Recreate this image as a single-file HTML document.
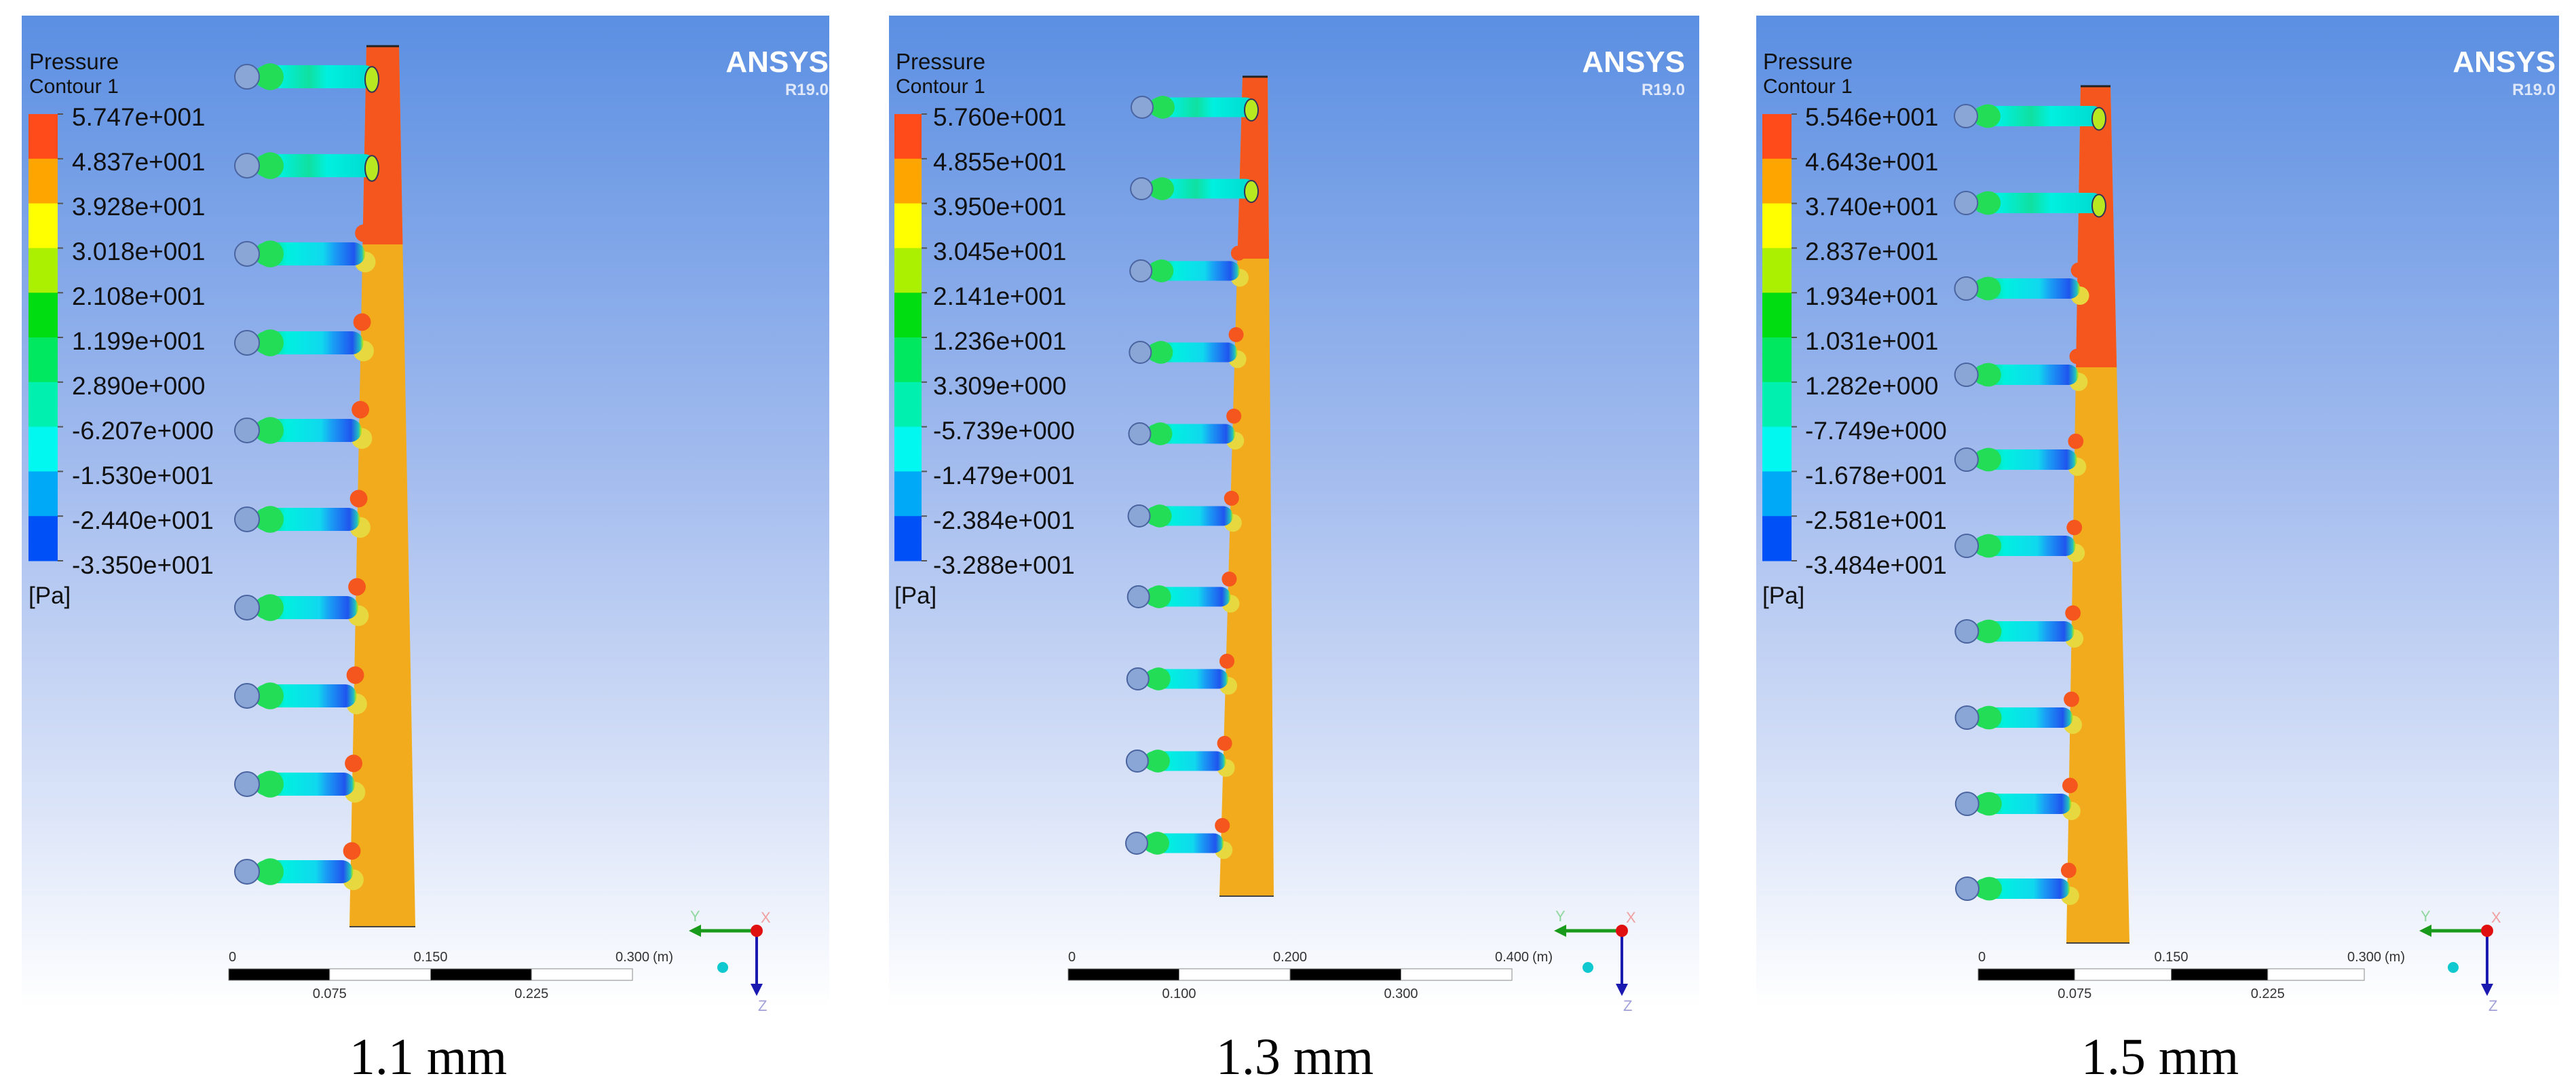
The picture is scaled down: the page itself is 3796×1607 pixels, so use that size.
<!DOCTYPE html>
<html>
<head>
<meta charset="utf-8">
<style>
html,body{margin:0;padding:0;background:#fff;}
body{width:3796px;height:1607px;overflow:hidden;}
svg{display:block;}
.lg{font-family:"Liberation Sans",sans-serif;fill:#111;}
.cap{font-family:"Liberation Serif",serif;fill:#000;}
</style>
</head>
<body>
<svg id="fig" width="3796" height="1607" viewBox="0 0 3796 1607" xmlns="http://www.w3.org/2000/svg">
<defs>
<linearGradient id="bg" x1="0" y1="0" x2="0" y2="1">
<stop offset="0" stop-color="#5b8fe2"/>
<stop offset="0.45" stop-color="#a2bbee"/>
<stop offset="0.8" stop-color="#dbe4f8"/>
<stop offset="1" stop-color="#ffffff"/>
</linearGradient>
<linearGradient id="pipe" x1="0" y1="0" x2="1" y2="0">
<stop offset="0" stop-color="#22dd55"/>
<stop offset="0.18" stop-color="#00e6a0"/>
<stop offset="0.3" stop-color="#00f0e0"/>
<stop offset="0.62" stop-color="#10d8ee"/>
<stop offset="0.72" stop-color="#1a9ff5"/>
<stop offset="0.9" stop-color="#1f55ee"/>
<stop offset="0.97" stop-color="#20c0c0"/>
<stop offset="1" stop-color="#c8e800"/>
</linearGradient>
<linearGradient id="pipeTop" x1="0" y1="0" x2="1" y2="0">
<stop offset="0" stop-color="#22dd55"/>
<stop offset="0.2" stop-color="#00f0e0"/>
<stop offset="0.45" stop-color="#10e0a0"/>
<stop offset="0.6" stop-color="#00f0e0"/>
<stop offset="1" stop-color="#00d8d0"/>
</linearGradient>
</defs>
</svg>
<script>
const legendLabels1 = ["5.747e+001","4.837e+001","3.928e+001","3.018e+001","2.108e+001","1.199e+001","2.890e+000","-6.207e+000","-1.530e+001","-2.440e+001","-3.350e+001"];
const legendLabels2 = ["5.760e+001","4.855e+001","3.950e+001","3.045e+001","2.141e+001","1.236e+001","3.309e+000","-5.739e+000","-1.479e+001","-2.384e+001","-3.288e+001"];
const legendLabels3 = ["5.546e+001","4.643e+001","3.740e+001","2.837e+001","1.934e+001","1.031e+001","1.282e+000","-7.749e+000","-1.678e+001","-2.581e+001","-3.484e+001"];
const bandColors = ["#ff4a1a","#ffa500","#ffff00","#aaf000","#00dd10","#00e860","#00f0b0","#00f8f0","#00a8f8","#0050f8"];
const captions = ["1.1 mm","1.3 mm","1.5 mm"];
const scaleTop1 = ["0","0.150","0.300"], scaleBot1 = ["0.075","0.225"];
const scaleTop2 = ["0","0.200","0.400"], scaleBot2 = ["0.100","0.300"];
const scaleTop3 = ["0","0.150","0.300"], scaleBot3 = ["0.075","0.225"];

const NS="http://www.w3.org/2000/svg";
const svg=document.getElementById('fig');
function mk(tag,attrs,parent){const e=document.createElementNS(NS,tag);for(const k in attrs)e.setAttribute(k,attrs[k]);(parent||svg).appendChild(e);return e;}

const panels=[
 {x0:32,x1:1222,lx:42,lw:43,tx:106,title:43,ans:1221,ys:[113,244,374,505,634,765,895,1025,1155,1284],cx0:364,cx1:364,r:18,ph:34,
  m:{tl:540,tr:588,ty:68,bl:515,br:612,by:1365},red:360,topEnd:554,sb:[337,932],labels:legendLabels1,st:scaleTop1,sbt:scaleBot1,tri:1115,cap:631},
 {x0:1310,x1:2504,lx:1318,lw:40,tx:1375,title:1320,ans:2483,ys:[158,278,399,519,639,760,879,1000,1121,1242],cx0:1683,cx1:1675,r:16,ph:29,
  m:{tl:1831,tr:1868,ty:113,bl:1797,br:1877,by:1320},red:381,topEnd:1850,sb:[1574,2228],labels:legendLabels2,st:scaleTop2,sbt:scaleBot2,tri:2390,cap:1908},
 {x0:2588,x1:3771,lx:2597,lw:43,tx:2660,title:2598,ans:3766,ys:[171,299,425,552,677,804,930,1057,1184,1309],cx0:2897,cx1:2899,r:17,ph:30,
  m:{tl:3066,tr:3110,ty:127,bl:3045,br:3138,by:1389},red:541,topEnd:3099,sb:[2915,3484],labels:legendLabels3,st:scaleTop3,sbt:scaleBot3,tri:3665,cap:3183}
];

panels.forEach((p,pi)=>{
  const g=mk('g',{});
  
  
  const bg=mk('rect',{x:p.x0,y:23,width:p.x1-p.x0,height:1460,fill:'url(#bg)'},g);
  
  

  // title
  const t1=mk('text',{x:p.title,y:102,class:'lg','font-size':33},g);t1.textContent='Pressure';
  
  
  const t2=mk('text',{x:p.title,y:137,class:'lg','font-size':30},g);t2.textContent='Contour 1';
  
  

  // color bar
  const y0=168,y1=826,bh=(y1-y0)/bandColors.length;
  bandColors.forEach((c,i)=>{
    const b=mk('rect',{x:p.lx,y:y0+i*bh,width:p.lw,height:bh+0.5,fill:c},g);
    
    
  });
  p.labels.forEach((l,i)=>{
    const yy=172+i*66;
    const tk=mk('line',{x1:p.lx+p.lw,x2:p.lx+p.lw+8,y1:y0+i*bh,y2:y0+i*bh,stroke:'#555','stroke-width':2},g);
    
    
    const tt=mk('text',{x:p.tx,y:yy+13,class:'lg','font-size':37},g);tt.textContent=l;
    
    
  });
  const pa=mk('text',{x:p.lx,y:889,class:'lg','font-size':35},g);pa.textContent='[Pa]';
  
  

  // ANSYS logo
  const an=mk('text',{x:p.ans,y:106,'font-family':'"Liberation Sans",sans-serif','font-weight':'bold','font-size':44,fill:'#fff','text-anchor':'end'},g);an.textContent='ANSYS';
  
  
  const rv=mk('text',{x:p.ans,y:140,'font-family':'"Liberation Sans",sans-serif','font-weight':'bold','font-size':24,fill:'#dfe8fa','text-anchor':'end'},g);rv.textContent='R19.0';
  
  

  // manifold
  const m=p.m;
  const leftAt=y=>m.tl+(m.bl-m.tl)*(y-m.ty)/(m.by-m.ty);
  const rightAt=y=>m.tr+(m.br-m.tr)*(y-m.ty)/(m.by-m.ty);
  const man=mk('polygon',{points:`${m.tl},${m.ty} ${m.tr},${m.ty} ${m.br},${m.by} ${m.bl},${m.by}`,fill:'#f2ab1c'},g);
  
  
  const red=mk('polygon',{points:`${m.tl},${m.ty} ${m.tr},${m.ty} ${rightAt(p.red)},${p.red} ${leftAt(p.red)},${p.red}`,fill:'#f5561e'},g);
  
  
  const edge=mk('line',{x1:m.tl,x2:m.tr,y1:m.ty,y2:m.ty,stroke:'#222','stroke-width':3},g);
  
  
  const edge2=mk('line',{x1:m.bl,x2:m.br,y1:m.by,y2:m.by,stroke:'#444','stroke-width':2},g);
  
  

  // pipes
  p.ys.forEach((y,i)=>{
    const cx=p.cx0+(p.cx1-p.cx0)*i/(p.ys.length-1);
    const top=i<2;
    const xe=top?p.topEnd:leftAt(y)+4;
    if(!top){
      const rb=mk('circle',{cx:leftAt(y)+2,cy:y-(p.ph*0.9),r:p.ph*0.38,fill:'#f5561e'},g);
      
      
      const yb=mk('circle',{cx:leftAt(y)+4,cy:y+p.ph*0.35,r:p.ph*0.45,fill:'#e8d840'},g);
      
      
    }
    const pipe=mk('rect',{x:cx+p.r*0.6,y:y-p.ph/2,width:xe-cx-p.r*0.6,height:p.ph,rx:p.ph/2,fill:top?'url(#pipeTop)':'url(#pipe)'},g);
    
    
    const bulb=mk('ellipse',{cx:cx+p.r*1.9,cy:y,rx:p.r*1.1,ry:p.ph*0.58,fill:'#22dd55'},g);
    
    
    const c=mk('circle',{cx:cx,cy:y,r:p.r,fill:'#8aa6d6',stroke:'#4a64a0','stroke-width':2},g);
    
    
    if(top){
      const j=mk('ellipse',{cx:xe-6,cy:y+4,rx:10,ry:p.ph*0.55,fill:'#b8e820',stroke:'#335','stroke-width':2},g);
      
      
    }
  });

  // scale bar
  const [sx0,sx1]=p.sb, seg=(sx1-sx0)/4;
  for(let i=0;i<4;i++){
    const s=mk('rect',{x:sx0+i*seg,y:1427,width:seg,height:17,fill:i%2?'#fff':'#000',stroke:'#888','stroke-width':1},g);
    
    
  }
  p.st.forEach((l,i)=>{
    const s=mk('text',{x:sx0+i*2*seg,y:1416,'font-family':'"Liberation Sans",sans-serif','font-size':20,fill:'#333','text-anchor':i?'middle':'start'},g);s.textContent=l;
    
    
  });
  const mu=mk('text',{x:sx1+30,y:1416,'font-family':'"Liberation Sans",sans-serif','font-size':20,fill:'#333'},g);mu.textContent='(m)';
  
  
  p.sbt.forEach((l,i)=>{
    const s=mk('text',{x:sx0+(1+2*i)*seg,y:1470,'font-family':'"Liberation Sans",sans-serif','font-size':20,fill:'#333','text-anchor':'middle'},g);s.textContent=l;
    
    
  });

  // triad
  const tx=p.tri, ty=1371;
  const gl=mk('line',{x1:tx,y1:ty,x2:tx-85,y2:ty,stroke:'#1a9a1a','stroke-width':5},g);
  
  
  const ga=mk('polygon',{points:`${tx-100},${ty} ${tx-82},${ty-9} ${tx-82},${ty+9}`,fill:'#1a9a1a'},g);
  
  
  const bl=mk('line',{x1:tx,y1:ty,x2:tx,y2:ty+80,stroke:'#1a1ab0','stroke-width':4},g);
  
  
  const ba=mk('polygon',{points:`${tx},${ty+96} ${tx-9},${ty+78} ${tx+9},${ty+78}`,fill:'#1a1ab0'},g);
  
  
  const rd=mk('circle',{cx:tx,cy:ty,r:9,fill:'#e01010'},g);
  
  
  const cy=mk('circle',{cx:tx-50,cy:ty+54,r:8,fill:'#10c8d0'},g);
  
  
  [['Y',tx-98,ty-14,'#8fd89f'],['X',tx+6,ty-12,'#f0a0a0'],['Z',tx+2,ty+118,'#a0a0d8']].forEach(a=>{
    const s=mk('text',{x:a[1],y:a[2],'font-family':'"Liberation Sans",sans-serif','font-size':22,fill:a[3]},g);s.textContent=a[0];
    
    
  });

  // caption
  const cp=mk('text',{x:p.cap,y:1582,class:'cap','font-size':76,'text-anchor':'middle'},g);cp.textContent=captions[pi];
  
  
});
</script>
</body>
</html>
